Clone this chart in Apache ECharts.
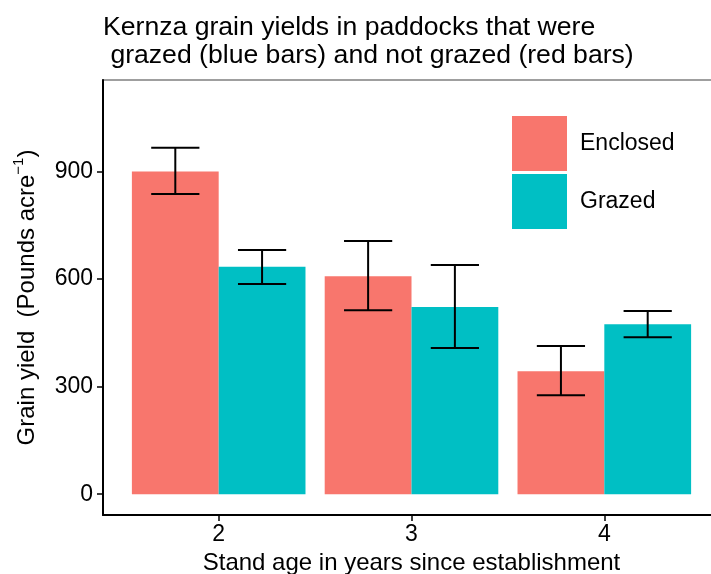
<!DOCTYPE html>
<html>
<head>
<meta charset="utf-8">
<script src="https://cdn.jsdelivr.net/npm/echarts@6/dist/echarts.min.js"></script>
<style>
  html, body { margin: 0; padding: 0; background: #fff; }
  #chart { width: 711px; height: 574px; }
</style>
</head>
<body>
<div id="chart"></div>
<script>
// stand age in years
const standAge = [2, 3, 4];
const yTicks = [0, 300, 600, 900];

const enclosedMean = [900, 608, 343];
const enclosedLow = [837, 513, 276];
const enclosedHigh = [966, 706, 413];

const grazedMean = [634, 522, 474];
const grazedLow = [586, 408, 438];
const grazedHigh = [681, 639, 511];

const RED = '#F8766D', TEAL = '#00BFC4';
const FONT = 'Liberation Sans, Arial, sans-serif';
const DODGE = 0.225, CAP = 0.125; // in x units

function errorSeries(low, high, offset) {
	return {
		type: 'custom',
		silent: true,
		z: 5,
		data: standAge.map((x, i) => [x + offset, low[i], high[i]]),
		renderItem: function (params, api) {
			const x = api.value(0);
			const lo = api.coord([x, api.value(1)]);
			const hi = api.coord([x, api.value(2)]);
			const l = api.coord([x - CAP, api.value(1)])[0];
			const r = api.coord([x + CAP, api.value(1)])[0];
			const style = { stroke: '#000', lineWidth: 2 };
			return {
				type: 'group',
				children: [
					{ type: 'line', shape: { x1: lo[0], y1: lo[1], x2: hi[0], y2: hi[1] }, style },
					{ type: 'line', shape: { x1: l, y1: hi[1], x2: r, y2: hi[1] }, style },
					{ type: 'line', shape: { x1: l, y1: lo[1], x2: r, y2: lo[1] }, style }
				]
			};
		}
	};
}

const chart = echarts.init(document.getElementById('chart'), null, { renderer: 'canvas' });
chart.setOption({
	animation: false,
	textStyle: { fontFamily: FONT },
	title: {
		text: 'Kernza grain yields in paddocks that were\n grazed (blue bars) and not grazed (red bars)',
		left: 98,
		top: 9,
		textStyle: { fontSize: 26.6, fontWeight: 'normal', color: '#000', lineHeight: 28, fontFamily: FONT }
	},
	legend: {
		orient: 'vertical',
		left: 507,
		top: 111,
		itemWidth: 55,
		itemHeight: 55,
		itemGap: 3,
		icon: 'rect',
		textStyle: { fontSize: 23, color: '#000', padding: [0, 0, 0, 8], fontFamily: FONT },
		data: ['Enclosed', 'Grazed']
	},
	grid: {
		left: 103,
		top: 80,
		width: 617,
		bottom: 59,
		outerBoundsMode: 'none',
		show: true,
		borderColor: '#808080',
		borderWidth: 1.5
	},
	xAxis: {
		type: 'value',
		min: 1.4,
		max: 4.6,
		splitLine: { show: false },
		axisLine: { show: true, onZero: false, lineStyle: { color: '#000', width: 2 } },
		axisTick: { show: true, customValues: standAge, length: 6, lineStyle: { color: '#000', width: 1.5 } },
		axisLabel: { customValues: standAge, fontSize: 23, color: '#000', margin: 8, fontFamily: FONT },
		name: 'Stand age in years since establishment',
		nameLocation: 'middle',
		nameGap: 32,
		nameTextStyle: { fontSize: 24, color: '#000', fontFamily: FONT }
	},
	yAxis: {
		type: 'value',
		min: -58,
		max: 1155,
		splitLine: { show: false },
		axisLine: { show: true, onZero: false, lineStyle: { color: '#000', width: 2 } },
		axisTick: { show: true, customValues: yTicks, length: 6, lineStyle: { color: '#000', width: 1.5 } },
		axisLabel: { customValues: yTicks, fontSize: 23, color: '#000', margin: 10, fontFamily: FONT },
		name: '{a|Grain yield  (Pounds acre}{s|−1}{a|)}',
		nameLocation: 'middle',
		nameRotate: 90,
		nameGap: 64,
		nameTextStyle: {
			rich: {
				a: { fontSize: 24, color: '#000', fontFamily: FONT, lineHeight: 28, verticalAlign: 'bottom' },
				s: { fontSize: 15, color: '#000', fontFamily: FONT, lineHeight: 28, verticalAlign: 'top' }
			}
		}
	},
	series: [
		{
			name: 'Enclosed',
			type: 'bar',
			barWidth: 86.8,
			barGap: '0%',
			itemStyle: { color: RED },
			data: standAge.map((x, i) => [x, enclosedMean[i]])
		},
		{
			name: 'Grazed',
			type: 'bar',
			barWidth: 86.8,
			barGap: '0%',
			itemStyle: { color: TEAL },
			data: standAge.map((x, i) => [x, grazedMean[i]])
		},
		errorSeries(enclosedLow, enclosedHigh, -DODGE),
		errorSeries(grazedLow, grazedHigh, DODGE)
	]
});
</script>
</body>
</html>
